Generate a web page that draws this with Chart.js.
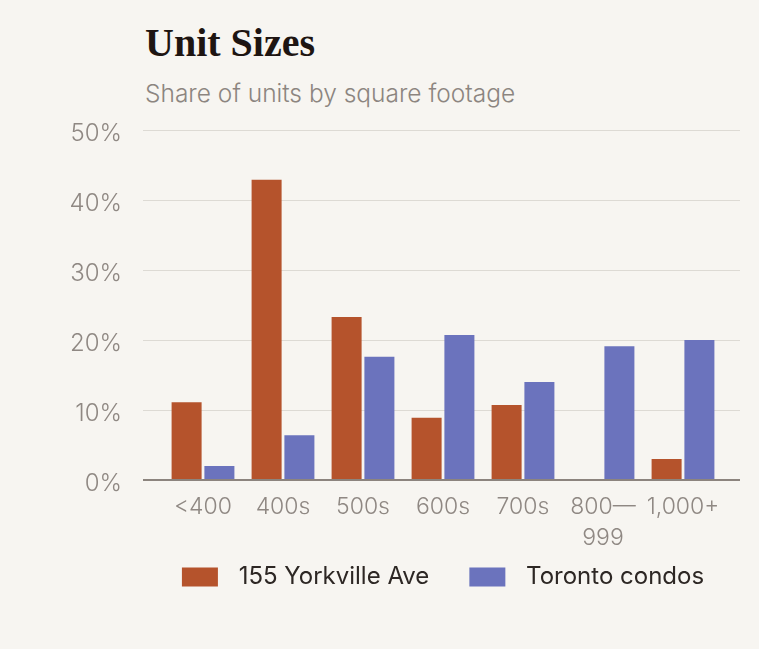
<!DOCTYPE html>
<html>
<head>
<meta charset="utf-8">
<script src="https://cdn.jsdelivr.net/npm/chart.js@4.4.1/dist/chart.umd.min.js"></script>
<style>
  html, body { margin:0; padding:0; background:#f7f5f1; }
  body { width:759px; height:649px; position:relative; overflow:hidden; }
  #title { position:absolute; left:145px; top:23px; margin:0; font-family:"Liberation Serif", serif; font-weight:700; font-size:40px; line-height:40px; color:#1e1512; white-space:nowrap; }
  #subtitle { position:absolute; left:145px; top:80px; margin:0; font-family:Inter, sans-serif; font-weight:300; font-size:24.5px; line-height:26px; color:#8c8580; white-space:nowrap; }
  canvas { position:absolute; left:0; top:0; }
</style>
</head>
<body>
<h1 id="title">Unit Sizes</h1>
<p id="subtitle">Share of units by square footage</p>
<canvas id="c" width="759" height="649"></canvas>
<script>
const categories = ['<400', '400s', '500s', '600s', '700s', ['800—', '999'], '1,000+'];
const seriesNames = ['155 Yorkville Ave', 'Toronto condos'];
const yorkville = [11.1, 42.9, 23.3, 8.9, 10.7, 0, 3.0];
const toronto = [2.0, 6.4, 17.6, 20.7, 14.0, 19.1, 20.0];
const yMax = 50;
const yStep = 10;

const ORANGE = '#b5532c';
const BLUE = '#6b73bd';
const GRID = 'rgba(120,110,100,0.2)';
const BASE = '#8c847e';
const TICK = '#8f8883';
const FONT = 'Inter, sans-serif';

const gridColor = ctx => (ctx.tick && ctx.tick.value === 0 ? BASE : GRID);
const gridWidth = ctx => (ctx.tick && ctx.tick.value === 0 ? 2 : 1);

new Chart(document.getElementById('c'), {
  type: 'bar',
  data: {
    labels: categories,
    datasets: [
      { label: seriesNames[0], data: yorkville, backgroundColor: ORANGE, categoryPercentage: 0.82, barPercentage: 0.915 },
      { label: seriesNames[1], data: toronto, backgroundColor: BLUE, categoryPercentage: 0.82, barPercentage: 0.915 }
    ]
  },
  options: {
    responsive: false,
    animation: false,
    devicePixelRatio: 1,
    layout: { padding: { left: 60, right: 19, top: 130, bottom: 50 } },
    plugins: {
      tooltip: { enabled: false },
      title: { display: false },
      legend: {
        position: 'bottom',
        fullSize: false,
        labels: {
          boxWidth: 36,
          boxHeight: 19,
          padding: 13,
          color: '#2d2724',
          font: { family: FONT, size: 24, weight: 400 },
          generateLabels: chart => Chart.defaults.plugins.legend.labels.generateLabels(chart).map((l, i) => ({
            ...l,
            text: '\u2009\u2009' + l.text + (i === 0 ? '    ' : ''),
            lineWidth: 0
          }))
        }
      }
    },
    scales: {
      x: {
        grid: { display: false, drawTicks: false },
        border: { display: false },
        ticks: { color: TICK, font: { family: FONT, size: 23, weight: 300, lineHeight: 1.35 }, padding: 12, maxRotation: 0, autoSkip: false },
        afterFit: s => { s.height = 72; }
      },
      y: {
        min: 0, max: yMax,
        z: 1,
        border: { display: false },
        grid: { color: gridColor, tickColor: gridColor, lineWidth: gridWidth, drawTicks: true, tickLength: 20 },
        ticks: { stepSize: yStep, padding: 21, labelOffset: 4, color: TICK, font: { family: FONT, size: 24, weight: 300 }, callback: v => v + '%' },
        afterFit: s => { s.width = 103; }
      },
      yRight: {
        position: 'right',
        min: 0, max: yMax,
        z: 1,
        border: { display: false },
        grid: { drawOnChartArea: false, color: gridColor, tickColor: gridColor, lineWidth: gridWidth, drawTicks: true, tickLength: 17 },
        ticks: { display: false, stepSize: yStep },
        afterFit: s => { s.width = 17; }
      }
    }
  }
});
</script>
</body>
</html>
